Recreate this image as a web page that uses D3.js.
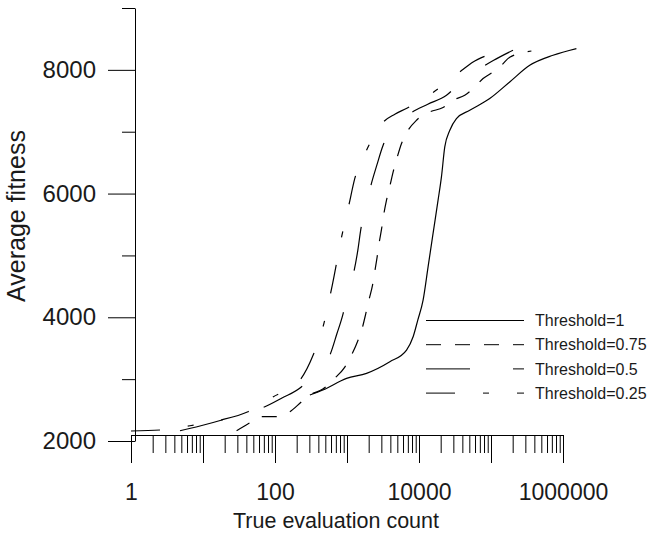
<!DOCTYPE html>
<html><head><meta charset="utf-8">
<script src="https://cdn.jsdelivr.net/npm/d3@7"></script>
<style>
body{margin:0;background:#fff;}
svg{display:block;font-family:"Liberation Sans",Arial,sans-serif;}
</style></head><body>
<svg id="chart" width="657" height="534"></svg>
<script>
// ---- data ----
const seriesNames = ["Threshold=1", "Threshold=0.75", "Threshold=0.5", "Threshold=0.25"];

const evalsT100 = [305, 462, 986, 1868, 3935, 6711, 8286, 9620, 11400, 13370, 15700, 18400, 20500, 22800, 26800, 33100, 50700, 96000, 182000, 345000, 727000, 1535000];
const fitT100   = [2743, 2824, 3013, 3094, 3281, 3470, 3685, 3955, 4278, 4816, 5360, 5893, 6270, 6754, 7024, 7213, 7347, 7536, 7805, 8074, 8236, 8344];

const evalsT075 = [29.3, 44.8, 65.2, 99.7, 161, 234, 305, 462, 678, 933, 1156, 1428, 1643, 1827, 2030, 2263, 2436, 2620, 2792, 3018, 3245, 3538, 3935, 4375, 4970, 5716, 7063, 9230, 14130, 21600, 29700, 43200, 59500, 77600, 106700, 139600, 182000, 364000];
const fitT075   = [2166, 2296, 2393, 2393, 2473, 2635, 2743, 2840, 3018, 3195, 3389, 3632, 3842, 4063, 4294, 4520, 4746, 4973, 5199, 5425, 5667, 5893, 6120, 6350, 6583, 6809, 7024, 7186, 7320, 7391, 7509, 7590, 7724, 7859, 7966, 8074, 8203, 8305];

const evalsT050 = [4.79, 9.07, 18.3, 34.7, 65.8, 125, 234, 370, 578, 722, 885, 1028, 1245, 1415, 1557, 1827, 2124, 2596, 3175, 4190, 5415, 7450, 13240, 24100, 36800, 59500, 109000, 202000];
const fitT050   = [2166, 2242, 2339, 2444, 2533, 2695, 2877, 3131, 3389, 3729, 4063, 4407, 4735, 5086, 5425, 5764, 6108, 6459, 6782, 7024, 7186, 7294, 7444, 7590, 7784, 7966, 8155, 8317];

const evalsT025 = [1, 2.53, 6.59, 17.7, 42.1, 93.5, 222, 339, 467, 637, 840, 1061, 1286, 1868, 3175, 4617, 6775, 14900, 28200, 39300, 56400, 81900, 119000];
const fitT025   = [2162, 2178, 2247, 2339, 2473, 2711, 2985, 3389, 3858, 4569, 5296, 5813, 6249, 6701, 7153, 7283, 7380, 7617, 7860, 7993, 8128, 8220, 8289];

const xTickValues  = [1, 10, 100, 1000, 10000, 100000, 1000000];
const xLabelValues = [1, 100, 10000, 1000000];
const yMajorTicks  = [2000, 4000, 6000, 8000];
const yMinorTicks  = [3000, 5000, 7000, 9000];
const xTitle = "True evaluation count";
const yTitle = "Average fitness";

// ---- styles ----
const dashes = ["none", "15,14", "44,43", "29,28,6,28"];

const svg = d3.select("#chart");
const x = d3.scaleLog().domain([1, 1e6]).range([131, 563]);
const y = d3.scaleLinear().domain([2000, 9000]).range([441, 8]);

// minor x ticks
const xMinor = [];
xTickValues.slice(0, -1).forEach(d => { for (let k = 2; k <= 9; k++) xMinor.push(d * k); });

// x axis (major)
svg.append("g").attr("class", "xaxis").attr("transform", "translate(0,435)")
  .call(d3.axisBottom(x).tickValues(xTickValues).tickSize(28).tickSizeOuter(0)
        .tickPadding(21)
        .tickFormat(d => xLabelValues.includes(d) ? String(d) : ""));
svg.append("g").attr("transform", "translate(0,435)")
  .call(d3.axisBottom(x).tickValues(xMinor).tickSize(18).tickSizeOuter(0).tickFormat(""))
  .call(g => g.select(".domain").remove());

// y axis
svg.append("g").attr("class", "yaxis").attr("transform", "translate(135,0)")
  .call(d3.axisLeft(y).tickValues(yMajorTicks).tickSize(27).tickSizeOuter(0).tickPadding(12)
        .tickFormat(d3.format("d")));
svg.append("g").attr("transform", "translate(135,0)")
  .call(d3.axisLeft(y).tickValues(yMinorTicks).tickSize(13).tickSizeOuter(0).tickFormat(""))
  .call(g => g.select(".domain").remove());

svg.selectAll(".tick line, .domain").attr("stroke", "#000").attr("stroke-width", 1);
svg.selectAll(".tick text").attr("fill", "#1a1a1a")
  .attr("font-family", "'Liberation Sans', Arial, sans-serif");
svg.selectAll(".xaxis .tick text").attr("font-size", 23);
svg.selectAll(".yaxis .tick text").attr("font-size", 24);

// titles
svg.append("text").attr("x", 336).attr("y", 528).attr("text-anchor", "middle")
  .attr("font-size", 21.5).attr("fill", "#1a1a1a").text(xTitle);
svg.append("text").attr("transform", "translate(25,216) rotate(-90)").attr("text-anchor", "middle")
  .attr("font-size", 25).attr("fill", "#1a1a1a").text(yTitle);

// curves
const series = [
  {name: seriesNames[0], xs: evalsT100, ys: fitT100, dash: dashes[0]},
  {name: seriesNames[1], xs: evalsT075, ys: fitT075, dash: dashes[1]},
  {name: seriesNames[2], xs: evalsT050, ys: fitT050, dash: dashes[2]},
  {name: seriesNames[3], xs: evalsT025, ys: fitT025, dash: dashes[3]}
];
const line = d3.line().x(d => x(d[0])).y(d => y(d[1])).curve(d3.curveMonotoneX);
svg.append("g").selectAll("path").data(series).join("path")
  .attr("d", s => line(s.xs.map((v, i) => [v, s.ys[i]])))
  .attr("fill", "none").attr("stroke", "#000").attr("stroke-width", 1.2)
  .attr("stroke-dasharray", s => s.dash);

// legend
const leg = svg.append("g");
series.forEach((s, i) => {
  const yy = 320.5 + i * 24.2;
  leg.append("line").attr("x1", 426).attr("x2", 524).attr("y1", yy).attr("y2", yy)
    .attr("stroke", "#000").attr("stroke-width", 1).attr("stroke-dasharray", s.dash);
  leg.append("text").attr("x", 535).attr("y", yy).attr("dy", "0.35em")
    .attr("font-size", 16).attr("fill", "#1a1a1a").text(s.name);
});
</script>
</body></html>
